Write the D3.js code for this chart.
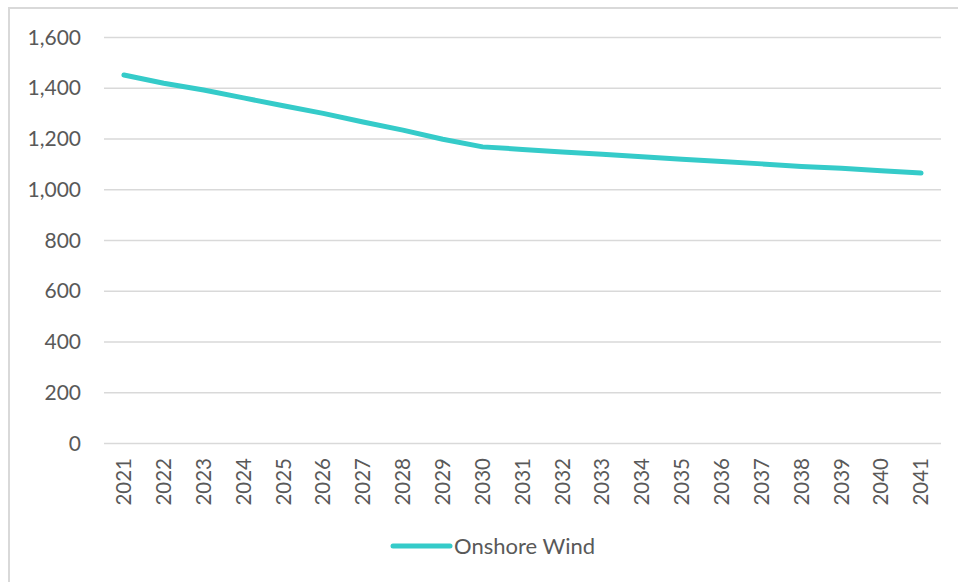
<!DOCTYPE html>
<html>
<head>
<meta charset="utf-8">
<script src="https://cdn.jsdelivr.net/npm/d3@7"></script>
<style>
    body { margin: 0; background: #fff; }
    text { font-family: Lato, "Open Sans", sans-serif; fill: #595959; }
</style>
</head>
<body>
<div id="chart"></div>
<script>
// data
const years = ["2021", "2022", "2023", "2024", "2025", "2026", "2027", "2028", "2029", "2030", "2031",
    "2032", "2033", "2034", "2035", "2036", "2037", "2038", "2039", "2040", "2041"];
const onshoreWind = [1450, 1418, 1391, 1360, 1329, 1299, 1265, 1233, 1197, 1167, 1157,
    1147, 1138, 1128, 1118, 1109, 1100, 1090, 1083, 1073, 1064];
const yTicks = [0, 200, 400, 600, 800, 1000, 1200, 1400, 1600];
const seriesName = "Onshore Wind";

const W = 958, H = 582;
const margin = {top: 37, right: 17, bottom: 139, left: 104};
const width = W - margin.left - margin.right;
const height = H - margin.top - margin.bottom;
const lineColor = "#35cbc9";

const svg = d3.select("#chart").append("svg")
    .attr("width", W)
    .attr("height", H);

// chart frame
svg.append("rect")
    .attr("x", 9).attr("y", 8)
    .attr("width", W + 20).attr("height", H + 20)
    .attr("fill", "none")
    .attr("stroke", "#d9d9d9")
    .attr("stroke-width", 2);

const g = svg.append("g")
    .attr("transform", "translate(" + margin.left + "," + margin.top + ")");

const x = d3.scaleBand()
    .domain(years)
    .range([0, width]);

const y = d3.scaleLinear()
    .domain([0, 1600])
    .range([height, 0]);

// gridlines + y labels
const yAxis = d3.axisLeft(y)
    .tickValues(yTicks)
    .tickSize(-width)
    .tickPadding(23)
    .tickFormat(d3.format(","));

g.append("g")
    .attr("class", "y-axis")
    .call(yAxis)
    .call(a => a.select(".domain").remove())
    .call(a => a.selectAll("line").attr("stroke", "#d9d9d9").attr("stroke-width", 1.5))
    .call(a => a.selectAll("text").style("font-size", "21px").attr("dy", "0.34em"));

// x axis with rotated year labels
const xAxis = d3.axisBottom(x)
    .tickSize(0)
    .tickPadding(0);

g.append("g")
    .attr("class", "x-axis")
    .attr("transform", "translate(0," + height + ")")
    .call(xAxis)
    .call(a => a.select(".domain").remove())
    .call(a => a.selectAll("text")
        .style("font-size", "20.5px")
        .attr("text-anchor", "end")
        .attr("transform", "translate(0,15) rotate(-90)")
        .attr("x", 0)
        .attr("y", 0)
        .attr("dy", "0.35em"));

// line
const line = d3.line()
    .x((d, i) => x(years[i]) + x.bandwidth() / 2)
    .y(d => y(d));

g.append("path")
    .datum(onshoreWind)
    .attr("d", line)
    .attr("fill", "none")
    .attr("stroke", lineColor)
    .attr("stroke-width", 5)
    .attr("stroke-linecap", "round")
    .attr("stroke-linejoin", "round");

// legend
const legend = svg.append("g")
    .attr("transform", "translate(393,546)");

legend.append("line")
    .attr("x1", 0).attr("x2", 57)
    .attr("y1", 0).attr("y2", 0)
    .attr("stroke", lineColor)
    .attr("stroke-width", 5)
    .attr("stroke-linecap", "round");

legend.append("text")
    .attr("x", 61)
    .attr("y", 0)
    .attr("dy", "0.35em")
    .style("font-size", "22px")
    .text(seriesName);
</script>
</body>
</html>
